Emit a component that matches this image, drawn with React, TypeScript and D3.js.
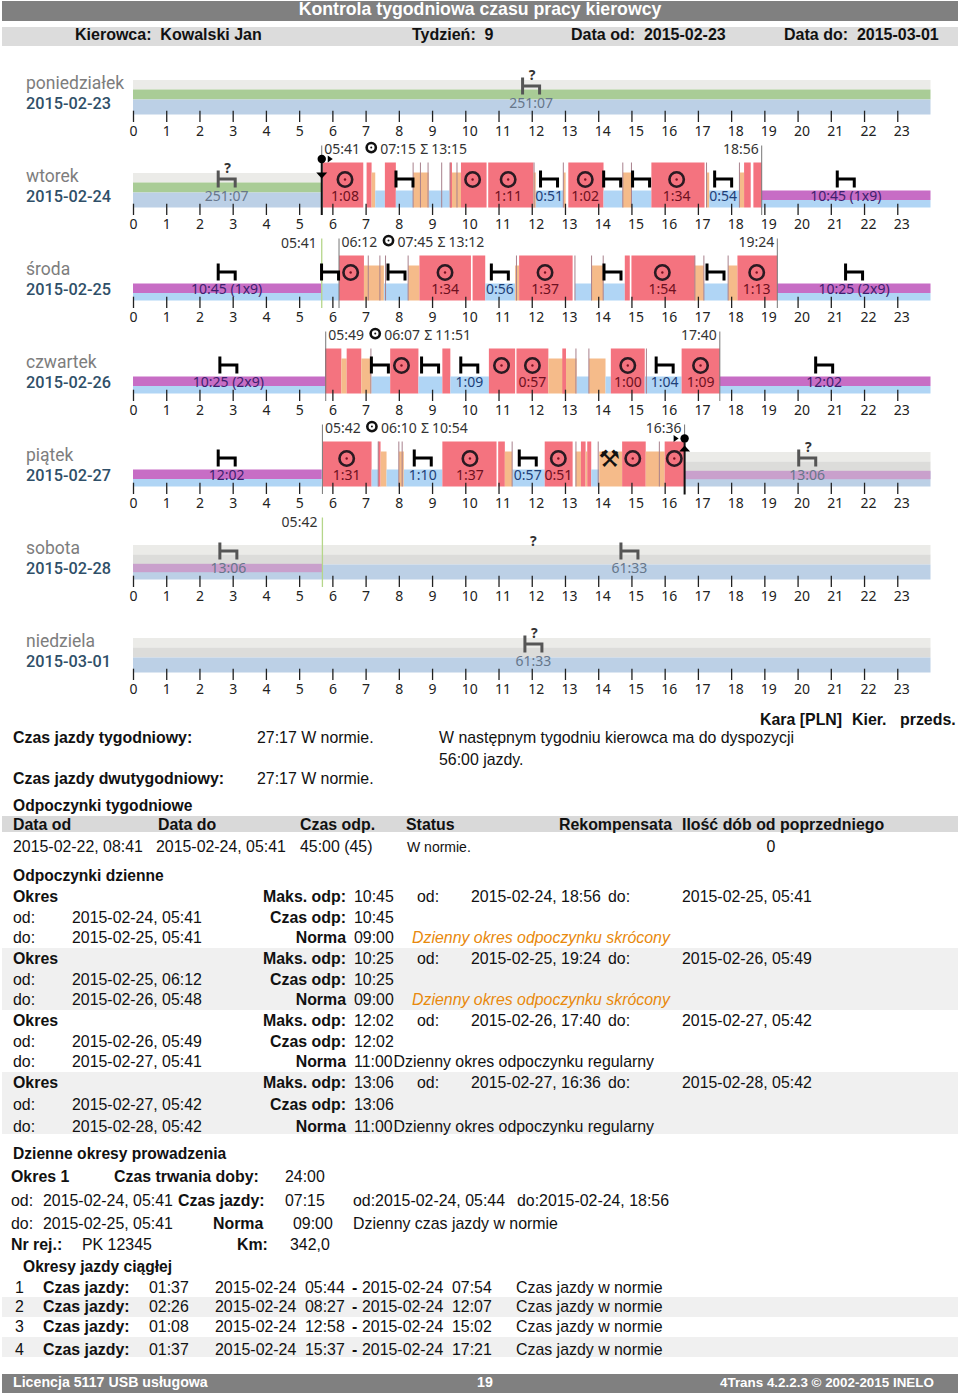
import React, { useEffect, useRef } from 'react';
import * as d3 from 'd3';

type Seg = [string, number, number];

const hours = d3.range(0, 24);
const dayNames = ['poniedziałek', 'wtorek', 'środa', 'czwartek', 'piątek', 'sobota', 'niedziela'];
const dayDates = ['2015-02-23', '2015-02-24', '2015-02-25', '2015-02-26', '2015-02-27', '2015-02-28', '2015-03-01'];

// kind, start hour, end hour
const segMon: Seg[] = [['top', 0, 24], ['green', 0, 24], ['lowFade', 0, 24]];
const segTue: Seg[] = [
  ['top', 0, 5.68], ['green', 0, 5.68], ['lowFade', 0, 5.68],
  ['drive', 5.71, 6.93], ['drive', 7.03, 7.18], ['work', 7.18, 7.29], ['rest', 7.29, 7.58], ['drive', 7.58, 7.91],
  ['rest', 7.91, 8.43], ['work', 8.43, 8.9], ['rest', 8.9, 9.52], ['work', 9.54, 9.87], ['drive', 9.54, 9.6],
  ['drive', 9.87, 10.64], ['drive', 10.69, 12.05], ['rest', 12.1, 12.95], ['work', 12.05, 12.12], ['work', 12.95, 13.02],
  ['drive', 13.1, 14.16], ['rest', 14.16, 14.74], ['work', 14.74, 15.0], ['rest', 15.0, 15.6], ['drive', 15.6, 17.2],
  ['work', 17.26, 17.34], ['rest', 17.34, 18.25], ['work', 18.25, 18.39], ['drive', 18.39, 18.59], ['drive', 18.67, 18.92],
  ['purple', 18.92, 24], ['under', 18.92, 24],
];
const segWed: Seg[] = [
  ['purple', 0, 5.68], ['under', 0, 5.68], ['rest', 5.68, 6.2], ['drive', 6.2, 6.95], ['work', 6.95, 7.55],
  ['rest', 7.55, 8.28], ['work', 8.28, 8.62], ['drive', 8.62, 10.17], ['drive', 10.22, 10.6], ['rest', 10.6, 11.5],
  ['work', 11.5, 11.62], ['drive', 11.62, 13.23], ['rest', 13.3, 13.8], ['work', 13.8, 14.15], ['rest', 14.15, 14.8],
  ['drive', 14.8, 14.95], ['drive', 15.0, 16.91], ['work', 16.91, 17.18], ['rest', 17.18, 17.91], ['work', 17.91, 18.19],
  ['drive', 18.19, 19.39], ['purple', 19.39, 24], ['under', 19.39, 24],
];
const segThu: Seg[] = [
  ['purple', 0, 5.78], ['under', 0, 5.78], ['drive', 5.78, 6.27], ['work', 6.27, 6.43], ['drive', 6.43, 6.87],
  ['work', 6.87, 7.16], ['rest', 7.18, 7.74], ['drive', 7.74, 8.59], ['rest', 8.59, 9.31], ['drive', 9.31, 9.55],
  ['rest', 9.55, 10.71], ['drive', 10.71, 11.5], ['drive', 11.54, 12.5], ['work', 12.5, 13.35], ['drive', 12.92, 13.03],
  ['rest', 13.35, 13.72], ['work', 13.72, 14.22], ['rest', 14.22, 14.38], ['drive', 14.38, 15.4], ['rest', 15.4, 16.51],
  ['drive', 16.51, 17.66], ['purple', 17.66, 24], ['under', 17.66, 24],
];
const segFri: Seg[] = [
  ['purple', 0, 5.68], ['under', 0, 5.68], ['drive', 5.71, 7.18], ['rest', 7.18, 7.38], ['drive', 7.38, 7.45],
  ['work', 7.45, 7.63], ['rest', 7.63, 8.0], ['work', 8.0, 8.15], ['rest', 8.15, 9.31], ['drive', 9.31, 10.94],
  ['drive', 10.99, 11.19], ['work', 11.19, 11.41], ['rest', 11.41, 12.39], ['drive', 12.39, 13.23], ['work', 13.32, 13.48],
  ['drive', 13.48, 13.62], ['work', 13.62, 13.67], ['drive', 13.67, 13.79], ['rest', 13.79, 14.03], ['work', 14.03, 14.72],
  ['drive', 14.72, 15.43], ['work', 15.43, 16.0], ['drive', 16.0, 16.58],
  ['top', 16.6, 24], ['midGrey', 16.6, 24], ['lowFade', 16.6, 24], ['purpleFade', 16.6, 24],
];
const segSat: Seg[] = [
  ['top', 0, 24], ['midGrey', 0, 24], ['lowFade', 0, 24], ['purpleFade', 0, 5.7],
];
const segSun: Seg[] = [['top', 0, 24], ['midGrey', 0, 24], ['lowFade', 0, 24]];
const daySegments = [segMon, segTue, segWed, segThu, segFri, segSat, segSun];

// thin marker lines inside a day
const thinTue = [8.43, 8.65, 8.88, 9.29, 9.54, 9.75, 12.07, 12.95, 14.74, 15.0, 17.26, 18.25];
const thinWed = [7.08, 7.43, 7.6, 8.28, 11.54, 13.3, 13.8, 14.15, 16.91, 17.18, 17.91];
const thinThu = [7.16, 13.33, 13.72, 15.45];
const thinFri = [7.38, 8.0, 8.1, 11.41, 13.33, 14.0, 15.84];
const dayThin = [[], thinTue, thinWed, thinThu, thinFri, [], []];

// [day index, hour, label, faded, question mark]
const beds: [number, number, string, boolean, boolean][] = [
  [0, 11.98, '251:07', true, true],
  [1, 2.82, '251:07', true, true], [1, 8.17, '', false, false], [1, 12.52, '0:51', false, false], [1, 14.42, '', false, false],
  [1, 15.29, '', false, false], [1, 17.76, '0:54', false, false], [1, 21.45, '10:45 (1x9)', false, false],
  [2, 2.82, '10:45 (1x9)', false, false], [2, 5.93, '', false, false], [2, 7.93, '', false, false], [2, 11.04, '0:56', false, false],
  [2, 14.43, '', false, false], [2, 17.53, '', false, false], [2, 21.7, '10:25 (2x9)', false, false],
  [3, 2.87, '10:25 (2x9)', false, false], [3, 7.43, '', false, false], [3, 8.94, '', false, false], [3, 10.12, '1:09', false, false],
  [3, 16.0, '1:04', false, false], [3, 20.8, '12:02', false, false],
  [4, 2.82, '12:02', false, false], [4, 8.72, '1:10', false, false], [4, 11.88, '0:57', false, false], [4, 20.29, '13:06', true, true],
  [5, 2.87, '13:06', true, false], [5, 14.94, '61:33', true, false],
  [6, 12.05, '61:33', true, true],
];
const bedLabelColors = ['#3d1f6e', '#1d3f78', '#66768a'];

// [day index, hour, label]
const targets: [number, number, string][] = [
  [1, 6.38, '1:08'], [1, 10.22, ''], [1, 11.29, '1:11'], [1, 13.61, '1:02'], [1, 16.36, '1:34'],
  [2, 6.55, ''], [2, 9.39, '1:34'], [2, 12.4, '1:37'], [2, 15.93, '1:54'], [2, 18.77, '1:13'],
  [3, 8.08, ''], [3, 11.09, ''], [3, 12.02, '0:57'], [3, 14.89, '1:00'], [3, 17.08, '1:09'],
  [4, 6.43, '1:31'], [4, 10.14, '1:37'], [4, 12.8, '0:51'], [4, 15.04, ''], [4, 16.29, ''],
];

// [day index, start hour of shift, end hour, start text, end text, drive sum, total sum]
const shifts: [number, number, number, string, string, string, string][] = [
  [1, 5.68, 18.92, '05:41', '18:56', '07:15', '13:15'],
  [2, 6.2, 19.39, '06:12', '19:24', '07:45', '13:12'],
  [3, 5.8, 17.66, '05:49', '17:40', '06:07', '11:51'],
  [4, 5.7, 16.6, '05:42', '16:36', '06:10', '10:54'],
];
const greenMarks: [number, number, string][] = [[2, 5.68, '05:41'], [5, 5.7, '05:42']];

const rests = [
  { maks: '10:45', od: '2015-02-24, 18:56', doo: '2015-02-25, 05:41', from: '2015-02-24, 05:41', to: '2015-02-25, 05:41', czas: '10:45', norma: '09:00', status: 'Dzienny okres odpoczynku skrócony', short: true },
  { maks: '10:25', od: '2015-02-25, 19:24', doo: '2015-02-26, 05:49', from: '2015-02-25, 06:12', to: '2015-02-26, 05:48', czas: '10:25', norma: '09:00', status: 'Dzienny okres odpoczynku skrócony', short: true },
  { maks: '12:02', od: '2015-02-26, 17:40', doo: '2015-02-27, 05:42', from: '2015-02-26, 05:49', to: '2015-02-27, 05:41', czas: '12:02', norma: '11:00', status: 'Dzienny okres odpoczynku regularny', short: false },
  { maks: '13:06', od: '2015-02-27, 16:36', doo: '2015-02-28, 05:42', from: '2015-02-27, 05:42', to: '2015-02-28, 05:42', czas: '13:06', norma: '11:00', status: 'Dzienny okres odpoczynku regularny', short: false },
];
const restRowY = [[896, 917, 937], [958, 979, 999], [1020, 1041, 1061], [1082, 1104, 1126]];
const continuous = [
  ['1', '01:37', '2015-02-24', '05:44', '2015-02-24', '07:54'],
  ['2', '02:26', '2015-02-24', '08:27', '2015-02-24', '12:07'],
  ['3', '01:08', '2015-02-24', '12:58', '2015-02-24', '15:02'],
  ['4', '01:37', '2015-02-24', '15:37', '2015-02-24', '17:21'],
];
const continuousY = [1287, 1306, 1326, 1349];

const kinds: Record<string, { top: number; bottom: number; color: string }> = {
  top: { top: 34.5, bottom: 25, color: '#ebebe8' },
  green: { top: 25, bottom: 15, color: '#a9cc96' },
  midGrey: { top: 25, bottom: 15, color: '#dcdcda' },
  lowFade: { top: 15, bottom: 0, color: '#bcd0e6' },
  purple: { top: 17, bottom: 7.5, color: '#c76dc5' },
  purpleFade: { top: 15.7, bottom: 7.3, color: '#c9a0cc' },
  under: { top: 7.5, bottom: 0, color: '#b0d5f5' },
  rest: { top: 17, bottom: 0, color: '#b0d5f5' },
  work: { top: 35, bottom: 0, color: '#f5bb8a' },
  drive: { top: 45, bottom: 0, color: '#f4737f' },
};

const UI = '"Noto Sans", sans-serif';
const ARIAL = '"Liberation Sans", Arial, sans-serif';

export default function App() {
  const svgRef = useRef<SVGSVGElement>(null);

  useEffect(() => {
    if (!svgRef.current) return;
    const svg = d3.select(svgRef.current);
    svg.selectAll('*').remove();

    const x = d3.scaleLinear().domain([0, 24]).range([133, 930.5]);
    const base = (i: number) => 114.5 + 93 * i;

    const txt = (g: any, px: number, py: number, s: string, o: any = {}) =>
      g.append('text').attr('x', px).attr('y', py + (o.dy ?? 5.5)).text(s)
        .attr('font-family', o.family ?? ARIAL).attr('font-size', o.size ?? 15.9)
        .attr('font-weight', o.weight ?? 400).attr('font-style', o.style ?? 'normal')
        .attr('fill', o.fill ?? '#111').attr('text-anchor', o.anchor ?? 'start')
        .style('white-space', 'pre');

    const rect = (px: number, py: number, w: number, h: number, fill: string) =>
      svg.append('rect').attr('x', px).attr('y', py).attr('width', w).attr('height', h).attr('fill', fill);

    // header and stripes
    rect(2, 1, 956, 20, '#808080');
    rect(2, 27, 956, 19, '#dcdcdc');
    rect(2, 816, 956, 16, '#d9d9d9');
    rect(2, 948, 956, 62, '#f0f0f0');
    rect(2, 1072, 956, 62, '#f0f0f0');
    rect(2, 1297, 956, 20, '#f0f0f0');
    rect(2, 1337, 956, 20, '#f0f0f0');
    rect(2, 1374, 956, 19, '#808080');

    const chart = svg.append('g');

    daySegments.forEach((segs, i) => {
      const b = base(i);
      const row = chart.append('g');
      txt(row, 26, b - 31.5, dayNames[i], { family: 'Roboto', size: 17.5, fill: '#7d7d7d' });
      txt(row, 26, b - 11.5, dayDates[i], { family: 'Roboto', size: 16.3, weight: 500, fill: '#2f4f68' });

      row.selectAll('rect.seg').data(segs).join('rect').attr('class', 'seg')
        .attr('x', d => x(d[1])).attr('width', d => x(d[2]) - x(d[1]))
        .attr('y', d => b - kinds[d[0]].top)
        .attr('height', d => kinds[d[0]].top - kinds[d[0]].bottom)
        .attr('fill', d => kinds[d[0]].color);

      row.selectAll('line.thin').data(dayThin[i] as number[]).join('line').attr('class', 'thin')
        .attr('x1', d => x(d)).attr('x2', d => x(d)).attr('y1', b - 45).attr('y2', b)
        .attr('stroke', '#a8808c').attr('stroke-width', 1);

      const axis = d3.axisBottom(x).tickValues(hours).tickSize(11.3).tickSizeOuter(0).tickFormat(d => String(d));
      const ag = row.append('g').attr('transform', `translate(0,${b - 3.8})`).call(axis as any);
      ag.select('.domain').remove();
      ag.selectAll('line').attr('stroke', '#222').attr('stroke-width', 1.3);
      ag.selectAll('text')
        .attr('font-family', UI).attr('font-size', 14).attr('fill', '#222')
        .attr('text-anchor', 'start').attr('x', -4).attr('y', 15).attr('dy', '0.72em');
    });

    // shift start / end lines with their labels
    shifts.forEach(([day, start, end, startText, endText, drive, total]) => {
      const b = base(day);
      const g = chart.append('g');
      const y = b - 59.4;
      [start, end].forEach(h => {
        g.append('line').attr('x1', x(h)).attr('x2', x(h)).attr('y1', b - 62).attr('y2', b + 7.5)
          .attr('stroke', '#777').attr('stroke-width', 1);
      });
      const sx = x(start) + 2.5;
      txt(g, sx, y, startText, { family: UI, size: 14, fill: '#333' });
      g.append('circle').attr('cx', sx + 47).attr('cy', y - 0.5).attr('r', 4.6)
        .attr('fill', 'none').attr('stroke', '#111').attr('stroke-width', 2.6);
      g.append('circle').attr('cx', sx + 47).attr('cy', y - 0.5).attr('r', 1).attr('fill', '#111');
      txt(g, sx + 56, y, drive, { family: UI, size: 14, fill: '#333' });
      txt(g, sx + 96, y, 'Σ', { family: UI, size: 14, fill: '#333' });
      txt(g, sx + 107, y, total, { family: UI, size: 14, fill: '#333' });
      txt(g, x(end) - 3, y, endText, { family: UI, size: 14, fill: '#333', anchor: 'end' });
    });

    greenMarks.forEach(([day, h, label]) => {
      const b = base(day);
      chart.append('line').attr('x1', x(h)).attr('x2', x(h)).attr('y1', b - 62).attr('y2', b + 7.5)
        .attr('stroke', '#b5d68a').attr('stroke-width', 1.3);
      txt(chart, x(h) - 5, b - 58.5, label, { family: UI, size: 14, fill: '#333', anchor: 'end' });
    });

    // bed icons
    beds.forEach(([day, h, label, faded, ask]) => {
      const b = base(day);
      const cx = x(h);
      const col = faded ? '#555' : '#000';
      chart.append('path')
        .attr('d', `M${cx - 8.5},${b - 37}V${b - 20}M${cx - 8.5},${b - 28.5}H${cx + 8.5}V${b - 20}`)
        .attr('fill', 'none').attr('stroke', col).attr('stroke-width', 3);
      if (ask) txt(chart, cx + 1, b - 40, '?', { family: UI, size: 14, weight: 700, fill: '#333', anchor: 'middle' });
      if (label) {
        const long = label.length > 5;
        const fill = faded ? bedLabelColors[2] : (long || label === '12:02' ? bedLabelColors[0] : bedLabelColors[1]);
        txt(chart, cx, b - 11.7, label, { family: UI, size: 14, fill, anchor: 'middle' });
      }
    });

    // question mark without a bed on saturday
    txt(chart, x(12.05), base(5) - 39.3, '?', { family: UI, size: 14, weight: 700, fill: '#333', anchor: 'middle' });

    // driving targets
    targets.forEach(([day, h, label]) => {
      const b = base(day);
      const cx = x(h);
      chart.append('circle').attr('cx', cx).attr('cy', b - 28).attr('r', 7.2)
        .attr('fill', 'none').attr('stroke', '#2a1a22').attr('stroke-width', 2.6);
      chart.append('circle').attr('cx', cx).attr('cy', b - 28).attr('r', 1.2).attr('fill', '#7a1020');
      if (label) txt(chart, cx, b - 11.7, label, { family: UI, size: 14, fill: '#6e1020', anchor: 'middle' });
    });

    // hammers
    txt(chart, x(14.33), base(4) - 27.5, '⚒', { family: '"DejaVu Sans"', size: 24, fill: '#111', anchor: 'middle', dy: 8 });

    // start / stop pins
    const pinTue = x(5.68);
    const pinFri = x(16.6);
    chart.append('line').attr('x1', pinTue).attr('x2', pinTue).attr('y1', base(1) - 45).attr('y2', base(1) + 7.5).attr('stroke', '#111').attr('stroke-width', 2);
    chart.append('circle').attr('cx', pinTue).attr('cy', base(1) - 48.5).attr('r', 4.2).attr('fill', '#000');
    chart.append('path').attr('d', `M${pinTue + 6},${base(1) - 52}l5,3.5l-5,3.5z`).attr('fill', '#000');
    chart.append('path').attr('d', `M${pinTue - 5.5},${base(1) - 35}h11l-5.5,6z`).attr('fill', '#000');
    chart.append('line').attr('x1', pinFri).attr('x2', pinFri).attr('y1', base(4) - 44).attr('y2', base(4) + 8).attr('stroke', '#111').attr('stroke-width', 2);
    chart.append('circle').attr('cx', pinFri).attr('cy', base(4) - 48).attr('r', 4.2).attr('fill', '#000');
    chart.append('path').attr('d', `M${pinFri - 11},${base(4) - 51.5}l5,3.5l-5,3.5z`).attr('fill', '#000');
    chart.append('path').attr('d', `M${pinFri - 5.5},${base(4) - 35}h11l-5.5,-6z`).attr('fill', '#000');

    // page header
    const t = svg.append('g');
    txt(t, 480, 9, 'Kontrola tygodniowa czasu pracy kierowcy', { weight: 700, size: 17.7, fill: '#fff', anchor: 'middle' });
    const hb = { weight: 700, size: 16 };
    txt(t, 75, 34, 'Kierowca:  Kowalski Jan', hb);
    txt(t, 412, 34, 'Tydzień:  9', hb);
    txt(t, 571, 34, 'Data od:  2015-02-23', hb);
    txt(t, 784, 34, 'Data do:  2015-03-01', hb);

    // weekly summary
    const bold = { weight: 700 };
    const heading = { weight: 700, size: 15.6 };
    txt(t, 760, 719, 'Kara [PLN]', bold);
    txt(t, 852, 719, 'Kier.', bold);
    txt(t, 900, 719, 'przeds.', bold);
    txt(t, 13, 737, 'Czas jazdy tygodniowy:', bold);
    txt(t, 257, 737, '27:17 W normie.');
    txt(t, 439, 737, 'W następnym tygodniu kierowca ma do dyspozycji');
    txt(t, 439, 759, '56:00 jazdy.');
    txt(t, 13, 778, 'Czas jazdy dwutygodniowy:', bold);
    txt(t, 257, 778, '27:17 W normie.');

    txt(t, 13, 805, 'Odpoczynki tygodniowe', heading);
    [['Data od', 13], ['Data do', 158], ['Czas odp.', 300], ['Status', 406], ['Rekompensata', 559], ['Ilość dób od poprzedniego', 682]]
      .forEach(([s, px]) => txt(t, px as number, 824, s as string, bold));
    txt(t, 13, 846, '2015-02-22, 08:41');
    txt(t, 156, 846, '2015-02-24, 05:41');
    txt(t, 300, 846, '45:00 (45)');
    txt(t, 407, 846, 'W normie.', { size: 14 });
    txt(t, 771, 846, '0', { anchor: 'middle' });

    txt(t, 13, 875, 'Odpoczynki dzienne', heading);
    rests.forEach((r, i) => {
      const [y1, y2, y3] = restRowY[i];
      txt(t, 13, y1, 'Okres', bold);
      txt(t, 346, y1, 'Maks. odp:', { ...bold, anchor: 'end' });
      txt(t, 354, y1, r.maks);
      txt(t, 417, y1, 'od:');
      txt(t, 471, y1, r.od);
      txt(t, 608, y1, 'do:');
      txt(t, 682, y1, r.doo);
      txt(t, 13, y2, 'od:');
      txt(t, 72, y2, r.from);
      txt(t, 346, y2, 'Czas odp:', { ...bold, anchor: 'end' });
      txt(t, 354, y2, r.czas);
      txt(t, 13, y3, 'do:');
      txt(t, 72, y3, r.to);
      txt(t, 346, y3, 'Norma', { ...bold, anchor: 'end' });
      txt(t, 354, y3, r.norma);
      if (r.short) txt(t, 412, y3, r.status, { style: 'italic', fill: '#e8890c' });
      else txt(t, 393.5, y3, r.status);
    });

    // daily driving periods
    txt(t, 13, 1153, 'Dzienne okresy prowadzenia', heading);
    txt(t, 11, 1176, 'Okres 1', bold);
    txt(t, 114, 1176, 'Czas trwania doby:', bold);
    txt(t, 285, 1176, '24:00');
    txt(t, 11, 1200, 'od:');
    txt(t, 43, 1200, '2015-02-24, 05:41');
    txt(t, 178, 1200, 'Czas jazdy:', bold);
    txt(t, 285, 1200, '07:15');
    txt(t, 353, 1200, 'od:2015-02-24, 05:44');
    txt(t, 517, 1200, 'do:2015-02-24, 18:56');
    txt(t, 11, 1223, 'do:');
    txt(t, 43, 1223, '2015-02-25, 05:41');
    txt(t, 213, 1223, 'Norma', bold);
    txt(t, 293, 1223, '09:00');
    txt(t, 353, 1223, 'Dzienny czas jazdy w normie');
    txt(t, 11, 1244, 'Nr rej.:', bold);
    txt(t, 82, 1244, 'PK 12345');
    txt(t, 237, 1244, 'Km:', bold);
    txt(t, 290, 1244, '342,0');
    txt(t, 23, 1266, 'Okresy jazdy ciągłej', heading);
    continuous.forEach((c, i) => {
      const y = continuousY[i];
      txt(t, 15, y, c[0]);
      txt(t, 43, y, 'Czas jazdy:', bold);
      txt(t, 149, y, c[1]);
      txt(t, 215, y, c[2]);
      txt(t, 305, y, c[3]);
      txt(t, 352, y, '-', bold);
      txt(t, 362, y, c[4]);
      txt(t, 452, y, c[5]);
      txt(t, 516, y, 'Czas jazdy w normie');
    });

    // footer
    const foot = { weight: 700, size: 14.2, fill: '#fff' };
    txt(t, 13, 1381, 'Licencja 5117 USB usługowa', foot);
    txt(t, 485, 1381, '19', { ...foot, anchor: 'middle' });
    txt(t, 720, 1381, '4Trans 4.2.2.3 © 2002-2015 INELO', { ...foot, size: 13.4 });
  }, []);

  return <svg ref={svgRef} width={960} height={1396} style={{ position: 'absolute', left: 0, top: 0 }} />;
}
